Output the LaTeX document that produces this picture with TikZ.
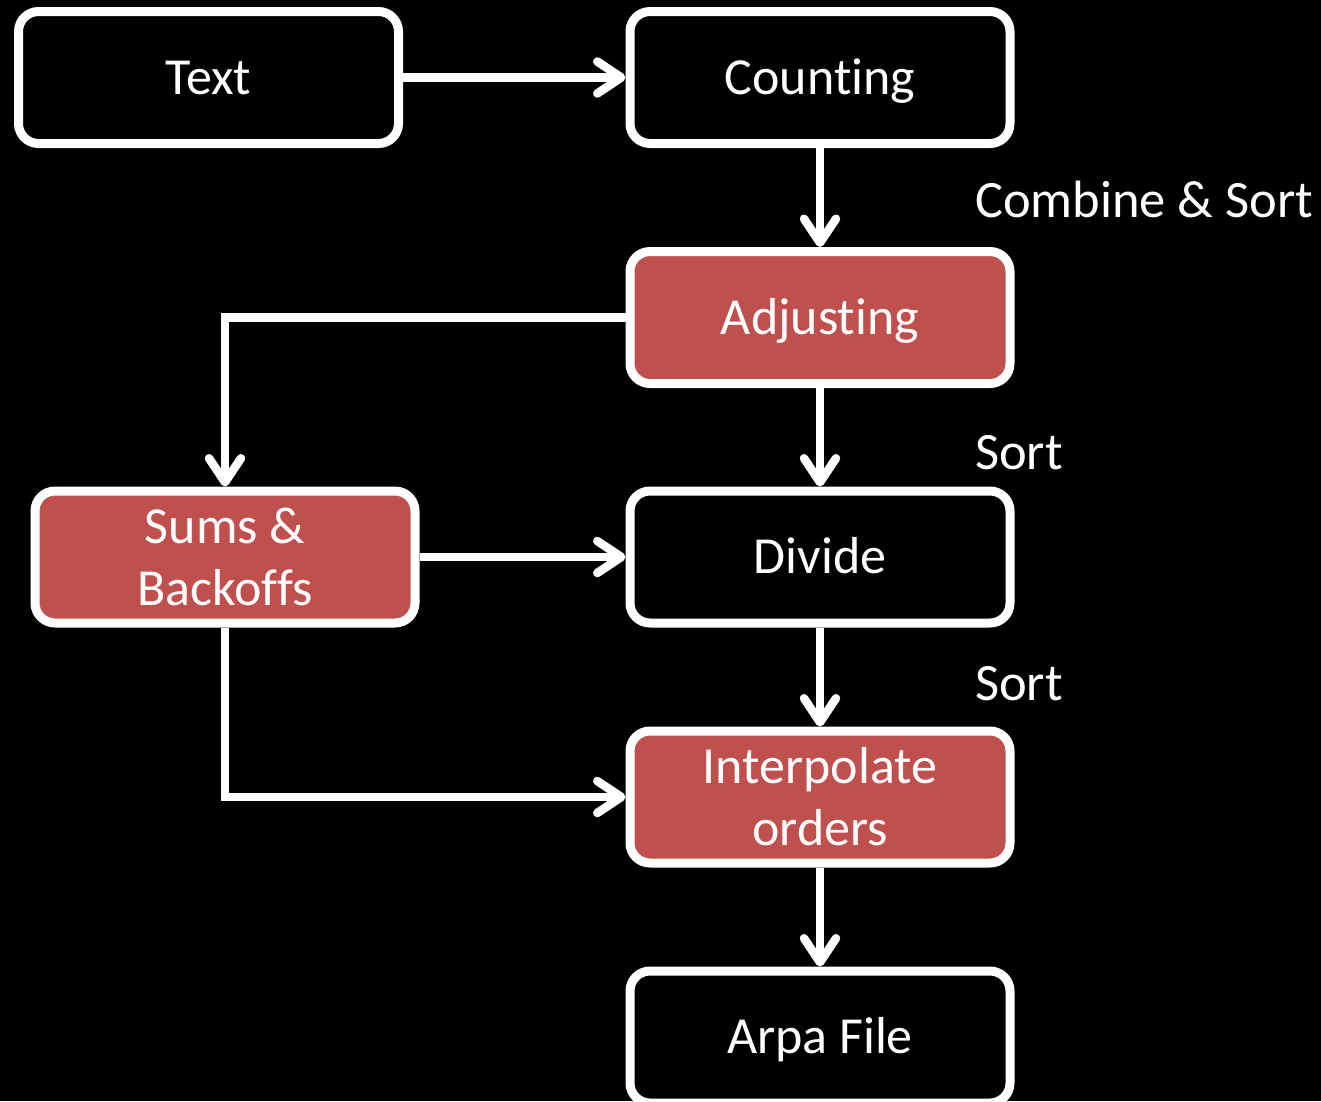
\documentclass[tikz,border=0pt]{standalone}
\usepackage{fontspec}
\setmainfont{Carlito}[Ligatures=NoCommon]
\usetikzlibrary{arrows.meta}
\definecolor{boxred}{HTML}{C0504D}
\begin{document}
\begin{tikzpicture}[x=1pt,y=-1pt,
  box/.style={draw=white, line width=9pt, rounded corners=20pt,
    minimum width=380pt, minimum height=132pt, inner sep=0pt,
    text=white, font=\fontsize{52}{62}\selectfont, align=center},
  oneline/.style={text height=33.5pt, text depth=0pt},
  plainbox/.style={box, fill=black},
  hotbox/.style={box, fill=boxred},
  flow/.style={draw=white, line width=8.5pt,
    -{Straight Barb[length=24pt, width=32pt, line cap=round, line join=round]}},
  steplabel/.style={text=white, font=\fontsize{52.5}{63}\selectfont,
    anchor=base west, inner sep=0pt}]
\fill[black] (0,0) rectangle (1321,1101);
\useasboundingbox (0,0) rectangle (1321,1101);

% boxes
\node[plainbox, oneline] (text)  at (208.5,77.5)  {Text};
\node[plainbox, oneline] (count) at (820,77.5)  {Counting};
\node[hotbox,   oneline] (adj)   at (820,317.5) {Adjusting};
\node[hotbox] (sums)  at (225,557) {Sums \&\\Backoffs};
\node[plainbox, oneline] (div)   at (820,557) {Divide};
\node[hotbox] (interp) at (820,797) {Interpolate\\orders};
\node[plainbox, oneline] (arpa)  at (820,1037) {Arpa File};

% step labels
\node[steplabel] (cs)    at (975,217) {Combine \& Sort};
\node[steplabel] (sortA) at (975,469) {Sort};
\node[steplabel] (sortB) at (975,700) {Sort};

% connectors
\draw[flow] (text.east) -- (count.west);
\draw[flow] (count.south) -- (adj.north);
\draw[flow] (adj.south) -- (div.north);
\draw[flow] (div.south) -- (interp.north);
\draw[flow] (interp.south) -- (arpa.north);
\draw[flow] (adj.west) -| (sums.north);
\draw[flow] (sums.east) -- (div.west);
\draw[flow] (sums.south) |- (interp.west);
\end{tikzpicture}
\end{document}
